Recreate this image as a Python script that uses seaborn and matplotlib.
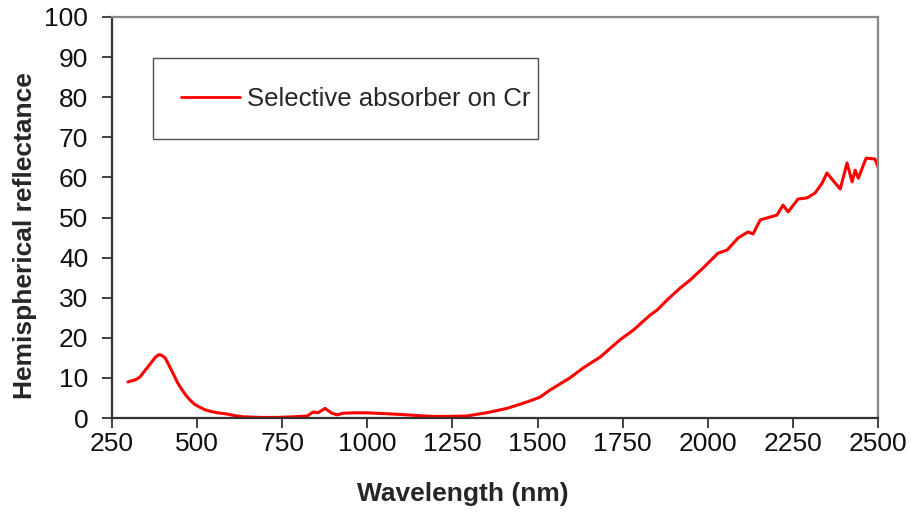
import matplotlib
matplotlib.use("Agg")
import matplotlib.pyplot as plt
import seaborn as sns
import pandas as pd

wavelength = [297, 310, 323, 333, 341, 355, 367, 378, 388, 397, 406, 416, 429, 442, 456, 468,
              479, 493, 508, 522, 538, 560, 588, 610, 635, 685, 735,
              782, 823, 841, 855, 876, 896, 911, 929, 960, 998, 1050, 1096, 1150, 1193, 1240,
              1291, 1350, 1410, 1469, 1507, 1537, 1595, 1634, 1684, 1742, 1781, 1831, 1851,
              1880, 1920, 1948, 1986, 2030, 2057, 2089, 2118, 2133, 2154, 2203, 2221, 2236,
              2265, 2292, 2315, 2336, 2350, 2374, 2389, 2409, 2424, 2433, 2442, 2465, 2491, 2500]
reflectance = [9.0, 9.3, 9.7, 10.3, 11.2, 12.7, 14.0, 15.2, 15.8, 15.6, 15.0, 13.4, 11.2, 8.9, 7.0, 5.6,
               4.5, 3.4, 2.7, 2.1, 1.7, 1.3, 1.0, 0.6, 0.3, 0.15, 0.15,
               0.3, 0.5, 1.5, 1.3, 2.4, 1.2, 0.8, 1.2, 1.3, 1.3, 1.1, 0.9, 0.6, 0.4, 0.4,
               0.5, 1.3, 2.4, 4.0, 5.2, 7.0, 10.0, 12.5, 15.2, 19.5, 21.9, 25.7, 26.9,
               29.4, 32.5, 34.4, 37.4, 41.1, 41.9, 44.9, 46.4, 45.9, 49.4, 50.6, 53.1, 51.4,
               54.6, 54.9, 56.1, 58.6, 61.1, 58.6, 57.1, 63.6, 58.9, 61.8, 59.8, 64.8, 64.6, 62.6]
series_name = "Selective absorber on Cr"
x_ticks = [250, 500, 750, 1000, 1250, 1500, 1750, 2000, 2250, 2500]
y_ticks = [0, 10, 20, 30, 40, 50, 60, 70, 80, 90, 100]

df = pd.DataFrame({"Wavelength": wavelength, "Reflectance": reflectance, "Series": series_name})

sns.set_style("white")
plt.rcParams["font.family"] = ["Liberation Sans", "DejaVu Sans"]

fig = plt.figure(figsize=(9.11, 5.15), dpi=100)
ax = fig.add_axes([0.1229, 0.1883, 0.9638 - 0.1229, 0.967 - 0.1883])
sns.lineplot(data=df, x="Wavelength", y="Reflectance", hue="Series",
             palette=["#ff0000"], linewidth=2.2, ax=ax, estimator=None, sort=True)

ax.set_xlim(250, 2500)
ax.set_ylim(0, 100)
ax.set_xticks(x_ticks)
ax.set_yticks(y_ticks)
ax.tick_params(axis="both", direction="out", length=7, width=1.2, color="#222222",
               labelsize=19, labelcolor="#111111", bottom=True, left=True)
ax.tick_params(axis="y", pad=10)
ax.tick_params(axis="x", pad=3)
ax.set_xlabel("Wavelength (nm)", fontsize=19, fontweight="bold")
ax.set_ylabel("Hemispherical reflectance", fontsize=19, fontweight="bold")
ax.xaxis.set_label_coords(0.458, -0.16)
ax.yaxis.set_label_coords(-0.098, 0.456)

for s in ["left", "bottom"]:
    ax.spines[s].set_color("#333333")
    ax.spines[s].set_linewidth(1.6)
for s in ["top", "right"]:
    ax.spines[s].set_color("#888888")
    ax.spines[s].set_linewidth(1.6)

leg = ax.legend(loc="center left", bbox_to_anchor=(0.0535, 0.693, 0.556 - 0.0535, 0.900 - 0.693),
                mode="expand", frameon=True, fancybox=False, fontsize=18.5,
                handlelength=2.3, handletextpad=0.25, borderpad=1.1, borderaxespad=0)
leg.get_frame().set_edgecolor("#222222")
leg.get_frame().set_linewidth(1.0)
for line in leg.get_lines():
    line.set_linewidth(2.0)

fig.savefig("out.png", dpi=100)
